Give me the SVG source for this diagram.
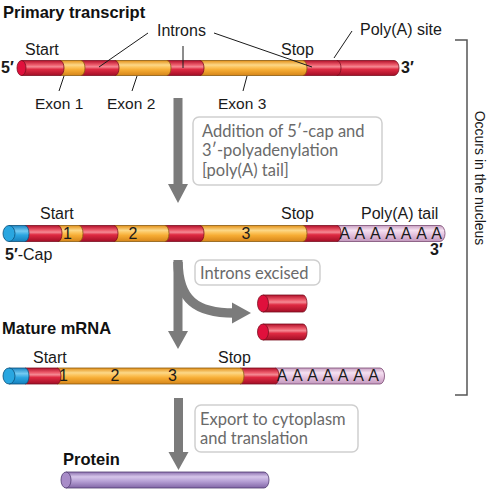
<svg xmlns="http://www.w3.org/2000/svg" width="488" height="489" viewBox="0 0 488 489">
<defs>
<linearGradient id="gRed" x1="0" y1="0" x2="0" y2="1">
<stop offset="0" stop-color="#b3102a"/><stop offset="0.28" stop-color="#ec5a6a"/><stop offset="0.42" stop-color="#f58a94"/><stop offset="0.58" stop-color="#df2a42"/><stop offset="1" stop-color="#a30e26"/>
</linearGradient>
<linearGradient id="gOr" x1="0" y1="0" x2="0" y2="1">
<stop offset="0" stop-color="#e39018"/><stop offset="0.3" stop-color="#fcd888"/><stop offset="0.45" stop-color="#fcc45c"/><stop offset="0.62" stop-color="#f6ac34"/><stop offset="1" stop-color="#d6861a"/>
</linearGradient>
<linearGradient id="gPink" x1="0" y1="0" x2="0" y2="1">
<stop offset="0" stop-color="#c8a0c2"/><stop offset="0.3" stop-color="#f5e0f1"/><stop offset="0.6" stop-color="#e3c0dd"/><stop offset="1" stop-color="#c298bd"/>
</linearGradient>
<linearGradient id="gBlue" x1="0" y1="0" x2="0" y2="1">
<stop offset="0" stop-color="#1b86c4"/><stop offset="0.35" stop-color="#74caf2"/><stop offset="0.6" stop-color="#2ba5e1"/><stop offset="1" stop-color="#1580bd"/>
</linearGradient>
<linearGradient id="gPur" x1="0" y1="0" x2="0" y2="1">
<stop offset="0" stop-color="#8c70ae"/><stop offset="0.3" stop-color="#d6c6ea"/><stop offset="0.6" stop-color="#b49dd3"/><stop offset="1" stop-color="#8166a6"/>
</linearGradient>
<style>
.red{fill:url(#gRed);stroke:#7a0f1f;stroke-width:0.8}
.or{fill:url(#gOr);stroke:#8a5a10;stroke-width:0.8}
.pink{fill:url(#gPink);stroke:#7a4a72;stroke-width:0.8}
.blue{fill:url(#gBlue);stroke:#0d4f78;stroke-width:0.8}
.pur{fill:url(#gPur);stroke:#4e3a6e;stroke-width:0.8}
.redface{fill:#e0103c;stroke:#7a0f1f;stroke-width:0.8}
.blueface{fill:#29a6e0;stroke:#0d4f78;stroke-width:0.8}
.purface{fill:#a88cc8;stroke:#4e3a6e;stroke-width:0.8}
.lbl{font-family:"Liberation Sans",Arial,sans-serif;font-size:16px;fill:#1a1a1a}
.ttl{font-family:"Liberation Sans",Arial,sans-serif;font-size:16.5px;font-weight:bold;fill:#111}
.b{font-weight:bold}
.num{font-family:"Liberation Sans",Arial,sans-serif;font-size:16px;fill:#1a1a1a;text-anchor:middle}
.box{fill:#fff;stroke:#cfcfcf;stroke-width:1.5}
.boxt{font-family:Lato,"Open Sans",sans-serif;font-size:16.5px;fill:#6a6a6a}
.lead{stroke:#1a1a1a;stroke-width:1;fill:none}
.arr{fill:#7b7b7b}
</style>
</defs>
<rect width="488" height="489" fill="#fff"/>

<g id="primary-transcript">
<text class="ttl" x="3" y="18">Primary transcript</text>
<path class="red" d="M337 60.5H394A5 7.5 0 0 1 394 75.5H337Z"/>
<path class="red" d="M303 60.5H337A4 7.5 0 0 1 337 75.5H303Z"/>
<path class="or" d="M200 60.5H303A4 7.5 0 0 1 303 75.5H200Z"/>
<path class="red" d="M167 60.5H200A4 7.5 0 0 1 200 75.5H167Z"/>
<path class="or" d="M115 60.5H167A4 7.5 0 0 1 167 75.5H115Z"/>
<path class="red" d="M81 60.5H115A4 7.5 0 0 1 115 75.5H81Z"/>
<path class="or" d="M60 60.5H81A4 7.5 0 0 1 81 75.5H60Z"/>
<path class="red" d="M21.5 60.5H60A4 7.5 0 0 1 60 75.5H21.5Z"/>
<ellipse class="redface" cx="21.5" cy="68" rx="4.5" ry="7.5"/>
<text class="lbl b" x="1" y="73">5′</text>
<text class="lbl b" x="401" y="73">3′</text>
<text class="lbl" x="25" y="55">Start</text>
<text class="lbl" x="157" y="36">Introns</text>
<text class="lbl" x="281" y="55">Stop</text>
<text class="lbl" x="360" y="35">Poly(A) site</text>
<text class="lbl" x="35" y="108.5" style="font-size:15.5px">Exon 1</text>
<text class="lbl" x="107" y="108.5" style="font-size:15.5px">Exon 2</text>
<text class="lbl" x="218" y="108.5" style="font-size:15.5px">Exon 3</text>
</g>

<g id="box-cap-polyA">
<rect class="box" x="193" y="117" width="189" height="68" rx="6"/>
<text class="boxt" x="202" y="136.5">Addition of 5′-cap and</text>
<text class="boxt" x="202" y="156">3′-polyadenylation</text>
<text class="boxt" x="202" y="175.5">[poly(A) tail]</text>
</g>

<g id="capped-transcript">
<path class="pink" d="M337 225.5H440A5 8 0 0 1 440 241.5H337Z"/>
<path class="red" d="M303 225.5H337A4 8 0 0 1 337 241.5H303Z"/>
<path class="or" d="M200 225.5H303A4 8 0 0 1 303 241.5H200Z"/>
<path class="red" d="M165 225.5H200A4 8 0 0 1 200 241.5H165Z"/>
<path class="or" d="M114 225.5H165A4 8 0 0 1 165 241.5H114Z"/>
<path class="red" d="M79 225.5H114A4 8 0 0 1 114 241.5H79Z"/>
<path class="or" d="M58 225.5H79A4 8 0 0 1 79 241.5H58Z"/>
<path class="red" d="M25 225.5H58A4 8 0 0 1 58 241.5H25Z"/>
<path class="blue" d="M9 225.5H25A4 8 0 0 1 25 241.5H9Z"/>
<ellipse class="blueface" cx="9" cy="233.5" rx="6" ry="8"/>
<text class="num" x="67.5" y="239">1</text>
<text class="num" x="133" y="239">2</text>
<text class="num" x="246" y="239">3</text>
<text class="num" x="344.5 359.9 375.3 390.7 406.1 421.5 436.5" y="239">AAAAAAA</text>
<text class="lbl" x="40" y="219">Start</text>
<text class="lbl" x="281" y="219">Stop</text>
<text class="lbl" x="361" y="219">Poly(A) tail</text>
<text class="lbl" x="5" y="260"><tspan class="b">5′</tspan>-Cap</text>
<text class="lbl b" x="430" y="255">3′</text>
</g>

<g id="box-introns-excised">
<rect class="box" x="195" y="260" width="125" height="25" rx="6"/>
<text class="boxt" x="200" y="278.5">Introns excised</text>
</g>

<g id="excised-introns">
<path class="red" d="M263 295H303A4 8.5 0 0 1 303 312H263Z"/>
<ellipse class="redface" cx="263" cy="303.5" rx="5.5" ry="8.5"/>
<path class="red" d="M263 324H303A4 8 0 0 1 303 340H263Z"/>
<ellipse class="redface" cx="263" cy="332" rx="5.5" ry="8"/>
</g>

<g id="mature-mrna">
<text class="ttl" x="2" y="334">Mature mRNA</text>
<path class="pink" d="M275 368H380A4.5 8 0 0 1 380 384H275Z"/>
<path class="red" d="M240 368H275A4 8 0 0 1 275 384H240Z"/>
<path class="or" d="M57 368H240A4 8 0 0 1 240 384H57Z"/>
<path class="red" d="M25 368H57A4 8 0 0 1 57 384H25Z"/>
<path class="blue" d="M9 368H25A4 8 0 0 1 25 384H9Z"/>
<ellipse class="blueface" cx="9" cy="376" rx="6" ry="8"/>
<text class="num" x="63.5" y="381">1</text>
<text class="num" x="115" y="381">2</text>
<text class="num" x="172.5" y="381">3</text>
<text class="num" x="282 297.3 312.6 327.9 343.2 358.5 373.5" y="381">AAAAAAA</text>
<text class="lbl" x="33" y="363">Start</text>
<text class="lbl" x="218" y="363">Stop</text>
</g>

<g id="box-export">
<rect class="box" x="195" y="405" width="163" height="47" rx="6"/>
<text class="boxt" x="200" y="424.5">Export to cytoplasm</text>
<text class="boxt" x="200" y="444">and translation</text>
</g>

<g id="protein">
<text class="ttl" x="63" y="465">Protein</text>
<path class="pur" d="M66 472H264A5 8 0 0 1 264 488H66Z"/>
<ellipse class="purface" cx="66" cy="480" rx="5" ry="8"/>
</g>

<g id="nucleus-bracket">
<path d="M455 40H467V395H455" fill="none" stroke="#555" stroke-width="1.5"/>
<text class="lbl" transform="translate(475 178) rotate(90)" text-anchor="middle" style="font-size:14px">Occurs in the nucleus</text>
</g>

<g id="connectors">
<path class="lead" d="M148 33L99 67M183 46V68M214 33L312 67M352 31L334 58M59 91L64 76M132 91L137 76M243 91L247 76"/>
<polygon class="arr" points="173.5,98 182.5,98 182.5,184 188,184 178,203 168,184 173.5,184"/>
<polygon class="arr" points="173.5,260 182.5,260 182.5,331 188,331 178,349 168,331 173.5,331"/>
<path d="M178 262C178.5 300 196 313 234 313" fill="none" stroke="#7b7b7b" stroke-width="9.5"/>
<polygon class="arr" points="232,302.5 251,313 232,323.5"/>
<polygon class="arr" points="174,398 183,398 183,452 188.5,452 178.5,470 168.5,452 174,452"/>
</g>
</svg>
